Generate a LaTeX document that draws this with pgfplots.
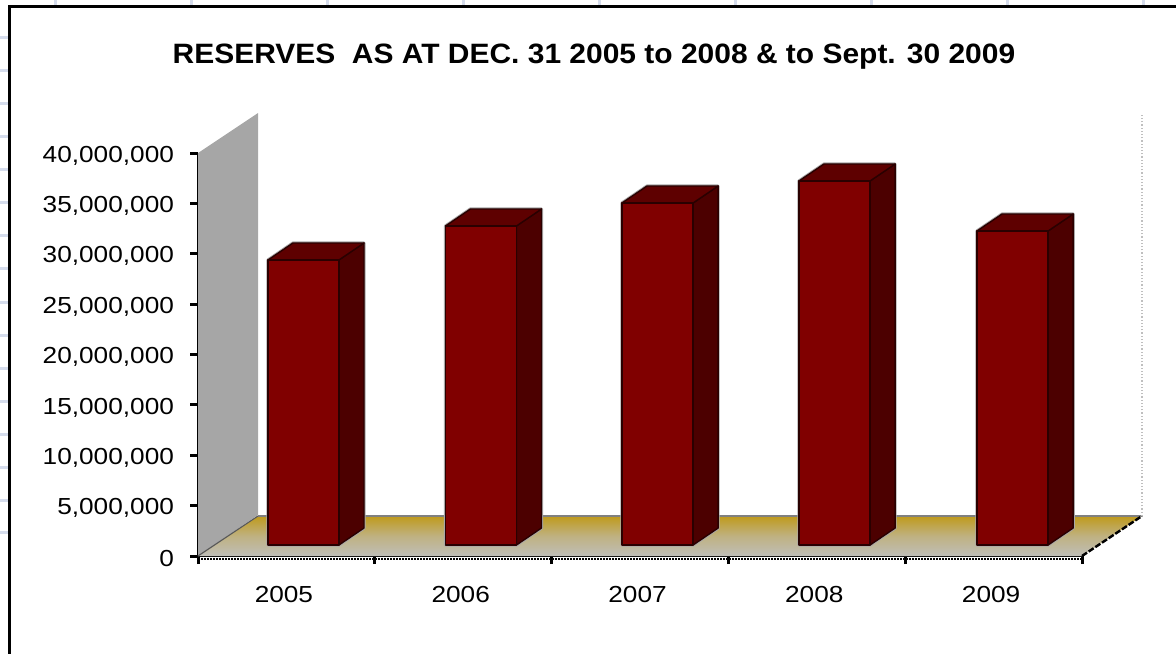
\documentclass[border=0pt]{standalone}
\usepackage{pgfplots}
\usepackage{fontspec}
\setmainfont[FakeStretch=1.13]{Liberation Sans}
\newfontfamily\headfont[FakeStretch=1.07]{Liberation Sans}
\pgfplotsset{compat=1.18}
\definecolor{sheetgrid}{HTML}{D5DCEC}
\definecolor{wallgrey}{HTML}{A6A6A6}
\definecolor{floorback}{HTML}{BF9A1C}
\definecolor{floorfront}{HTML}{BFBEB8}
\definecolor{barfront}{HTML}{800000}
\definecolor{bartop}{HTML}{5E0000}
\definecolor{barside}{HTML}{4C0000}
\definecolor{baredge}{HTML}{2A0000}
\definecolor{barhalo}{HTML}{A8A8A8}
\tikzset{
  px/.style={x=0.5pt,y=-0.5pt},
  front/.style={fill=barfront,draw=baredge,line width=0.7pt,line join=round},
  top/.style={fill=bartop,draw=baredge,line width=0.7pt,line join=round},
  side/.style={fill=barside,draw=baredge,line width=0.7pt,line join=round},
  halo/.style={fill=barhalo,draw=barhalo,line width=1.6pt,line join=round}
}
\begin{document}
\begin{tikzpicture}
% page area, spreadsheet rules behind the chart, chart frame
\useasboundingbox (0,0) rectangle (588pt,327pt);
\begin{scope}[shift={(0,327pt)},px]
  \foreach \x in {55,191,327,463,599,735,871,1007,1143}
    \draw[sheetgrid,line width=1.5pt] (\x,0) -- (\x,5);
  \foreach \y in {38,71,104,137,170,203,236,269,302,335,368,401,434,467,500,532}
    \draw[sheetgrid,line width=1.5pt] (0,\y) -- (9,\y);
  \draw[black,line width=1.7pt] (1176,6.5) -- (9.5,6.5) -- (9.5,654);
  \node[font=\headfont\fontsize{14pt}{16pt}\selectfont\bfseries,anchor=center] at (594,56.5)
    {RESERVES\ \ AS AT DEC. 31 2005 to 2008 \& to Sept. 30 2009};
\end{scope}
\begin{axis}[
  at={(99pt,49pt)},anchor=origin,
  scale only axis,width=442pt,height=201.5pt,
  xmin=0,xmax=5,ymin=0,ymax=40000000,
  clip=false,
  scaled y ticks=false,
  axis x line*=bottom,axis y line*=left,
  axis line style={black,line width=1pt},
  every tick/.append style={black,line width=1.5pt},
  tick style={black,line width=1.5pt},
  major tick style={black,line width=1.5pt},
  tick align=outside,
  major tick length=4pt,
  xtick={0,1,2,3,4,5},xticklabels={},
  extra x ticks={0.486,1.486,2.486,3.486,4.486},
  extra x tick labels={2005,2006,2007,2008,2009},
  extra x tick style={major tick length=0pt,
    xticklabel style={yshift=-11.5pt}},
  ytick={0,5000000,10000000,15000000,20000000,25000000,30000000,35000000,40000000},
  yticklabels={0,{5,000,000},{10,000,000},{15,000,000},{20,000,000},{25,000,000},{30,000,000},{35,000,000},{40,000,000}},
  yticklabel style={xshift=-4.5pt,yshift=-1.3pt},
  tick label style={font=\fontsize{11.6pt}{13pt}\selectfont},
]
% left wall
\addplot[fill=wallgrey,draw=none] coordinates
  {(0,0) (0.3394,4069500) (0.3394,43970000) (0,40000000)} -- cycle;
% floor
\addplot[draw=none,shade,top color=floorback,bottom color=floorfront,middle color=floorback!35!floorfront] coordinates
  {(0,0) (5,0) (5.3394,3970000) (0.3394,3970000)} -- cycle;
\addplot[color=gray,line width=0.6pt] coordinates {(0.3394,3970000) (5.3394,3970000)};
\addplot[color=black!65,line width=0.6pt] coordinates {(0,0) (0.3394,3970000)};
\addplot[color=black,line width=1.2pt,dash pattern=on 3pt off 1pt] coordinates {(5,0) (5.3394,3970000)};
% rear edge of the plot volume
\addplot[color=black!25,line width=0.6pt,densely dotted] coordinates {(5.3394,3970000) (5.3394,43970000)};
% row of fine ticks under the category axis
\addplot[color=black,line width=1.4pt,dash pattern=on 0.8pt off 0.7pt] coordinates {(0,-300000) (5,-300000)};
% 2005
\addplot[halo] coordinates {(0.396,1091800) (0.797,1091800) (0.939,2779200) (0.939,31067100) (0.537,31067100) (0.396,29379800)} -- cycle;
\addplot[side] coordinates {(0.797,1091800) (0.939,2779200) (0.939,31067100) (0.797,29379800)} -- cycle;
\addplot[top] coordinates {(0.396,29379800) (0.797,29379800) (0.939,31067100) (0.537,31067100)} -- cycle;
\addplot[front] coordinates {(0.396,1091800) (0.797,1091800) (0.797,29379800) (0.396,29379800)} -- cycle;
% 2006
\addplot[halo] coordinates {(1.400,1091800) (1.801,1091800) (1.943,2779200) (1.943,34441800) (1.541,34441800) (1.400,32754500)} -- cycle;
\addplot[side] coordinates {(1.801,1091800) (1.943,2779200) (1.943,34441800) (1.801,32754500)} -- cycle;
\addplot[top] coordinates {(1.400,32754500) (1.801,32754500) (1.943,34441800) (1.541,34441800)} -- cycle;
\addplot[front] coordinates {(1.400,1091800) (1.801,1091800) (1.801,32754500) (1.400,32754500)} -- cycle;
% 2007
\addplot[halo] coordinates {(2.398,1091800) (2.800,1091800) (2.942,2779200) (2.942,36724700) (2.540,36724700) (2.398,35037400)} -- cycle;
\addplot[side] coordinates {(2.800,1091800) (2.942,2779200) (2.942,36724700) (2.800,35037400)} -- cycle;
\addplot[top] coordinates {(2.398,35037400) (2.800,35037400) (2.942,36724700) (2.540,36724700)} -- cycle;
\addplot[front] coordinates {(2.398,1091800) (2.800,1091800) (2.800,35037400) (2.398,35037400)} -- cycle;
% 2008
\addplot[halo] coordinates {(3.399,1091800) (3.801,1091800) (3.943,2779200) (3.943,38908400) (3.541,38908400) (3.399,37221000)} -- cycle;
\addplot[side] coordinates {(3.801,1091800) (3.943,2779200) (3.943,38908400) (3.801,37221000)} -- cycle;
\addplot[top] coordinates {(3.399,37221000) (3.801,37221000) (3.943,38908400) (3.541,38908400)} -- cycle;
\addplot[front] coordinates {(3.399,1091800) (3.801,1091800) (3.801,37221000) (3.399,37221000)} -- cycle;
% 2009
\addplot[halo] coordinates {(4.406,1091800) (4.808,1091800) (4.950,2779200) (4.950,33945600) (4.548,33945600) (4.406,32258200)} -- cycle;
\addplot[side] coordinates {(4.808,1091800) (4.950,2779200) (4.950,33945600) (4.808,32258200)} -- cycle;
\addplot[top] coordinates {(4.406,32258200) (4.808,32258200) (4.950,33945600) (4.548,33945600)} -- cycle;
\addplot[front] coordinates {(4.406,1091800) (4.808,1091800) (4.808,32258200) (4.406,32258200)} -- cycle;
\end{axis}
\end{tikzpicture}
\end{document}
